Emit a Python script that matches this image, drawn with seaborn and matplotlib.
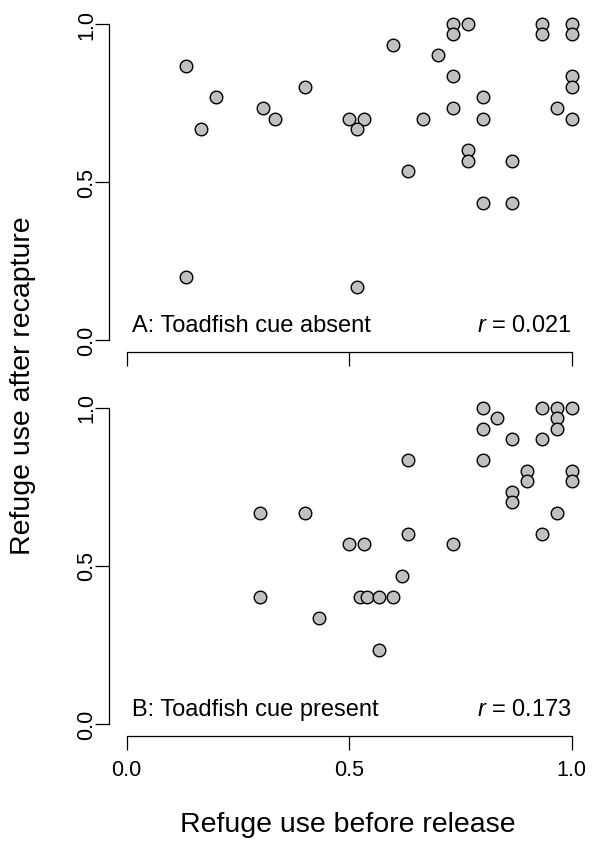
import matplotlib
matplotlib.use("Agg")
import matplotlib.pyplot as plt
import pandas as pd
import seaborn as sns

# ---------------- data ----------------
a_before = [0.133, 0.200, 0.167, 0.307, 0.333, 0.400, 0.133, 0.500, 0.533, 0.517,
            0.517, 0.600, 0.667, 0.633, 0.700, 0.733, 0.733, 0.767, 0.733, 0.733,
            0.800, 0.800, 0.767, 0.767, 0.800, 0.867, 0.867, 0.933, 0.933, 1.000,
            1.000, 1.000, 1.000, 0.967, 1.000]
a_after = [0.867, 0.767, 0.667, 0.733, 0.700, 0.800, 0.200, 0.700, 0.700, 0.667,
           0.167, 0.933, 0.700, 0.533, 0.900, 1.000, 0.967, 1.000, 0.833, 0.733,
           0.767, 0.700, 0.600, 0.567, 0.433, 0.567, 0.433, 1.000, 0.967, 1.000,
           0.967, 0.833, 0.800, 0.733, 0.700]

b_before = [0.300, 0.400, 0.300, 0.433, 0.500, 0.533, 0.633, 0.633, 0.733, 0.620,
            0.525, 0.540, 0.567, 0.600, 0.567, 0.800, 0.833, 0.800, 0.800, 0.867,
            0.933, 0.967, 1.000, 0.967, 0.967, 0.933, 0.900, 0.900, 1.000, 1.000,
            0.867, 0.867, 0.967, 0.933]
b_after = [0.667, 0.667, 0.400, 0.333, 0.567, 0.567, 0.833, 0.600, 0.567, 0.467,
           0.400, 0.400, 0.400, 0.400, 0.233, 1.000, 0.967, 0.933, 0.833, 0.900,
           1.000, 1.000, 1.000, 0.967, 0.933, 0.900, 0.800, 0.767, 0.800, 0.767,
           0.733, 0.700, 0.667, 0.600]

panel_labels = ["A: Toadfish cue absent", "B: Toadfish cue present"]
r_values = ["0.021", "0.173"]
tick_vals = [0.0, 0.5, 1.0]
tick_labels = ["0.0", "0.5", "1.0"]
x_label = "Refuge use before release"
y_label = "Refuge use after recapture"

# ---------------- style ----------------
sns.set_theme(style="white")
plt.rcParams["font.family"] = ["Liberation Sans", "DejaVu Sans"]
plt.rcParams["mathtext.fontset"] = "custom"
plt.rcParams["mathtext.it"] = "Liberation Sans:italic"
plt.rcParams["mathtext.rm"] = "Liberation Sans"

W, H = 592, 845
fig = plt.figure(figsize=(W / 100, H / 100), dpi=100)


def px_axes(left, top, right, bottom):
    return fig.add_axes([left / W, 1 - bottom / H, (right - left) / W, (bottom - top) / H])


# x: 0 -> 126.5 px, 1 -> 571.5 px ; y: 316 px per unit, 4% padding
x0, xs = 126.5, 445.0
ys = 316.0
left_px = x0 - 0.04 * xs
right_px = x0 + 1.04 * xs

axA = px_axes(left_px, 340.7 - 1.04 * ys, right_px, 340.7 + 0.04 * ys)
axB = px_axes(left_px, 724.5 - 1.04 * ys, right_px, 724.5 + 0.04 * ys)

datasets = [
    pd.DataFrame({"before": a_before, "after": a_after}),
    pd.DataFrame({"before": b_before, "after": b_after}),
]

for i, (ax, df) in enumerate(zip([axA, axB], datasets)):
    ax.patch.set_alpha(0)
    sns.scatterplot(data=df, x="before", y="after", ax=ax, s=82,
                    color="#c0c0c0", edgecolor="black", linewidth=1.0,
                    legend=False, zorder=3)
    ax.set_xlim(-0.04, 1.04)
    ax.set_ylim(-0.04, 1.04)
    ax.set_xlabel("")
    ax.set_ylabel("")
    for s in ["top", "right"]:
        ax.spines[s].set_visible(False)
    for s in ["left", "bottom"]:
        ax.spines[s].set_visible(True)
        ax.spines[s].set_color("black")
        ax.spines[s].set_linewidth(0.9)
    ax.spines["left"].set_bounds(0, 1)
    ax.spines["bottom"].set_bounds(0, 1)
    ax.set_xticks(tick_vals)
    ax.set_yticks(tick_vals)
    ax.set_yticklabels(tick_labels)
    ax.tick_params(axis="both", which="major", direction="out", length=10,
                   width=0.9, color="black", labelsize=15.5, labelcolor="black",
                   left=True, bottom=True)
    ax.tick_params(axis="y", pad=1.7)
    for lbl in ax.get_yticklabels():
        lbl.set_rotation(90)
        lbl.set_rotation_mode("anchor")
        lbl.set_horizontalalignment("center")
        lbl.set_verticalalignment("baseline")
    if i == 0:
        ax.tick_params(axis="x", labelbottom=False)
    else:
        ax.set_xticklabels(tick_labels)
        ax.tick_params(axis="x", pad=6.5)
    ax.grid(False)
    ax.text(0.012, 0.027, panel_labels[i], ha="left", va="baseline",
            fontsize=17, color="black")
    ax.text(1.0, 0.027, "$r$ = " + r_values[i], ha="right", va="baseline",
            fontsize=17, color="black")

fig.text(23 / W, 1 - 386 / H, y_label, rotation=90, ha="center", va="center",
         fontsize=20.5, color="black")
fig.text(348 / W, 1 - 825 / H, x_label, ha="center", va="center",
         fontsize=20.5, color="black")

fig.savefig("out.png", dpi=100)
